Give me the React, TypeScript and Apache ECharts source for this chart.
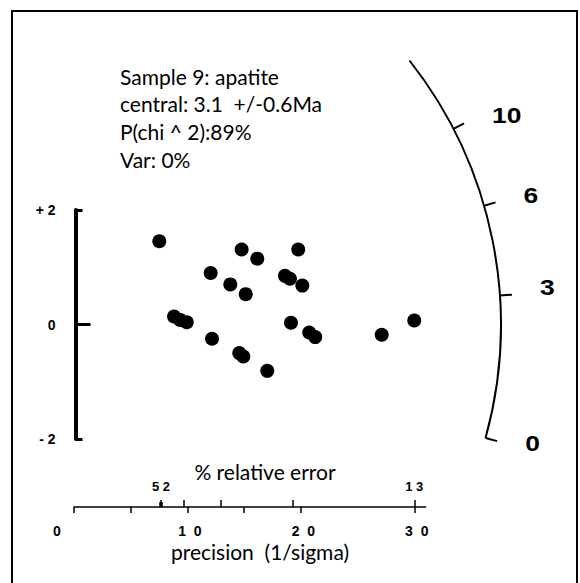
import React, { useEffect, useRef } from "react";
import * as echarts from "echarts";

// ---- data ----
const precision = [7.52, 14.78, 16.16, 19.77, 12.05, 13.78, 15.14, 18.6, 19.04, 20.13, 8.82, 9.35, 9.94, 19.13, 30.0, 27.13, 20.74, 21.27, 12.17, 14.57, 14.93, 17.04];
const standardEstimate = [1.455, 1.31, 1.15, 1.31, 0.9, 0.7, 0.53, 0.85, 0.8, 0.68, 0.14, 0.08, 0.04, 0.03, 0.07, -0.18, -0.14, -0.22, -0.25, -0.5, -0.56, -0.81];

const yTickValues = [-2, 0, 2];
const yTickLabels = ["- 2", "0", "+ 2"];
const precisionTicks = [0, 5, 10, 15, 20, 30];
const precisionLabelValues = [0, 10, 20, 30];
const precisionLabels = ["0", "1  0", "2  0", "3  0"];
const relErrorTickPrecision = [7.67, 9.7, 12.96, 19.29, 30];
const relErrorLabelPrecision = [7.67, 30];
const relErrorLabels = ["5 2", "1 3"];
const ageTicks = ["0", "3", "6", "10"];
const ageTickSlopes = [-0.0546, 0.0135, 0.0574, 0.1022];
const arcSlopeRange = [-0.0546, 0.1559];
const arcRadius = 37.64; // in precision units
const infoLines = ["Sample 9: apatite", "central: 3.1  +/-0.6Ma", "P(chi ^ 2):89%", "Var: 0%"];
const xAxisTitle = "precision  (1/sigma)";
const relErrorTitle = "% relative error";

const NUM_FONT = "'Liberation Sans', Arial, sans-serif";
const TEXT_FONT = "Lato, 'Open Sans', sans-serif";

export default function App() {
  const ref = useRef<HTMLDivElement>(null);

  useEffect(() => {
    if (!ref.current) return;
    const chart = echarts.init(ref.current, null, { renderer: "svg" });
    const points = precision.map((p, i) => [p, standardEstimate[i]]);
    const black = "#000";

    const option: any = {
      animation: false,
      backgroundColor: "#fff",
      grid: { left: 74, top: 210, width: 351.6, height: 229, outerBoundsMode: "none" },
      xAxis: [
        {
          type: "value", min: 0, max: 31, position: "bottom", offset: 68,
          axisLine: { show: true, onZero: false, lineStyle: { color: black, width: 1.5 } },
          axisTick: { show: true, customValues: precisionTicks, length: 6, inside: false, lineStyle: { color: black, width: 1.5 } },
          axisLabel: {
            show: true, customValues: precisionLabelValues, margin: 17, lineHeight: 14,
            color: black, fontFamily: NUM_FONT, fontWeight: "bold", fontSize: 14,
            formatter: (v: number) => {
              const i = precisionLabelValues.indexOf(v);
              const t = i >= 0 ? precisionLabels[i] : "";
              return v === 0 ? `{z|${t}}` : `{n|${t}}`;
            },
            rich: {
              z: { padding: [0, 34, 0, 0], lineHeight: 14, fontFamily: NUM_FONT, fontWeight: "bold", fontSize: 14, color: black },
              n: { padding: [0, 0, 0, 5], lineHeight: 14, fontFamily: NUM_FONT, fontWeight: "bold", fontSize: 14, color: black },
            },
          },
          splitLine: { show: false },
        },
        {
          type: "value", min: 0, max: 31, position: "bottom", offset: 68,
          axisLine: { show: false, onZero: false },
          axisTick: { show: true, customValues: relErrorTickPrecision, length: 7, inside: true, lineStyle: { color: black, width: 1.5 } },
          axisLabel: {
            show: true, customValues: relErrorLabelPrecision, inside: true, margin: 14, lineHeight: 13,
            color: black, fontFamily: NUM_FONT, fontWeight: "bold", fontSize: 13,
            formatter: (v: number) => {
              const i = relErrorLabelPrecision.indexOf(v);
              return i >= 0 ? relErrorLabels[i] : "";
            },
          },
          splitLine: { show: false },
        },
        {
          type: "value", min: 0, max: 31, position: "bottom", offset: 68,
          axisLine: { show: false, onZero: false },
          axisTick: { show: true, customValues: [relErrorTickPrecision[0]], length: 5, inside: true, lineStyle: { color: black, width: 3.5 } },
          axisLabel: { show: false },
          splitLine: { show: false },
        },
      ],
      yAxis: [
        {
          type: "value", min: -2, max: 2, position: "left", offset: -1.5,
          axisLine: { show: true, onZero: false, lineStyle: { color: black, width: 4 } },
          axisTick: { show: true, customValues: [-2, 2], length: 7, inside: true, lineStyle: { color: black, width: 3 } },
          axisLabel: {
            show: true, customValues: yTickValues, margin: 20,
            color: black, fontFamily: NUM_FONT, fontWeight: "bold", fontSize: 14,
            formatter: (v: number) => {
              const i = yTickValues.indexOf(v);
              return i >= 0 ? yTickLabels[i] : "";
            },
          },
          splitLine: { show: false },
        },
        {
          type: "value", min: -2, max: 2, position: "left", offset: -1.5,
          axisLine: { show: false, onZero: false },
          axisTick: { show: true, customValues: [0], length: 15, inside: true, lineStyle: { color: black, width: 3 } },
          axisLabel: { show: false },
          splitLine: { show: false },
        },
      ],
      series: [
        {
          type: "scatter", xAxisIndex: 0, yAxisIndex: 0, data: points,
          symbol: "circle", symbolSize: 14,
          itemStyle: { color: black, opacity: 1 },
          emphasis: { disabled: true },
        },
      ],
    };
    chart.setOption(option);

    const o = chart.convertToPixel({ gridIndex: 0 }, [0, 0]) as number[];
    const u = chart.convertToPixel({ gridIndex: 0 }, [1, 1]) as number[];
    const kx = u[0] - o[0];
    const ky = o[1] - u[1];
    const ang = (s: number) => Math.atan2(s * ky, kx);
    const R = arcRadius * kx;
    const pt = (a: number, r: number) => [o[0] + r * Math.cos(a), o[1] - r * Math.sin(a)];

    const graphics: any[] = [];
    graphics.push({
      type: "rect", shape: { x: 12, y: 11, width: 565, height: 620 },
      style: { fill: null, stroke: black, lineWidth: 2 }, silent: true,
    });
    graphics.push({
      type: "arc",
      shape: { cx: o[0], cy: o[1], r: R, startAngle: -ang(arcSlopeRange[1]), endAngle: -ang(arcSlopeRange[0]), clockwise: true },
      style: { stroke: black, lineWidth: 2, fill: null }, silent: true,
    });
    ageTicks.forEach((lab, i) => {
      const a = ang(ageTickSlopes[i]);
      const p1 = pt(a, R);
      const p2 = pt(a, R + 12);
      graphics.push({
        type: "line", shape: { x1: p1[0], y1: p1[1], x2: p2[0], y2: p2[1] },
        style: { stroke: black, lineWidth: 2 }, silent: true,
      });
      graphics.push({
        type: "text", x: p2[0] + 28, y: p2[1] + (a < 0 ? 2 : -7.5), scaleX: 1.2,
        style: { text: lab, fontFamily: NUM_FONT, fontWeight: "bold", fontSize: 22, fill: black, align: "left", verticalAlign: "middle" },
        silent: true,
      });
    });
    infoLines.forEach((t, i) => {
      graphics.push({
        type: "text", x: 120, y: 76 + i * 27.7,
        style: { text: t, fontFamily: TEXT_FONT, fontSize: 21, fill: black, align: "left", verticalAlign: "middle" },
        silent: true,
      });
    });
    graphics.push({
      type: "text", x: 265, y: 471,
      style: { text: relErrorTitle, fontFamily: TEXT_FONT, fontSize: 21, fill: black, align: "center", verticalAlign: "middle" },
      silent: true,
    });
    graphics.push({
      type: "text", x: 260, y: 551,
      style: { text: xAxisTitle, fontFamily: TEXT_FONT, fontSize: 21, fill: black, align: "center", verticalAlign: "middle" },
      silent: true,
    });
    chart.setOption({ graphic: { elements: graphics } });

    return () => chart.dispose();
  }, []);

  return (
    <div
      ref={ref}
      style={{ position: "fixed", left: 0, top: 0, width: 580, height: 583, background: "#fff" }}
    />
  );
}
